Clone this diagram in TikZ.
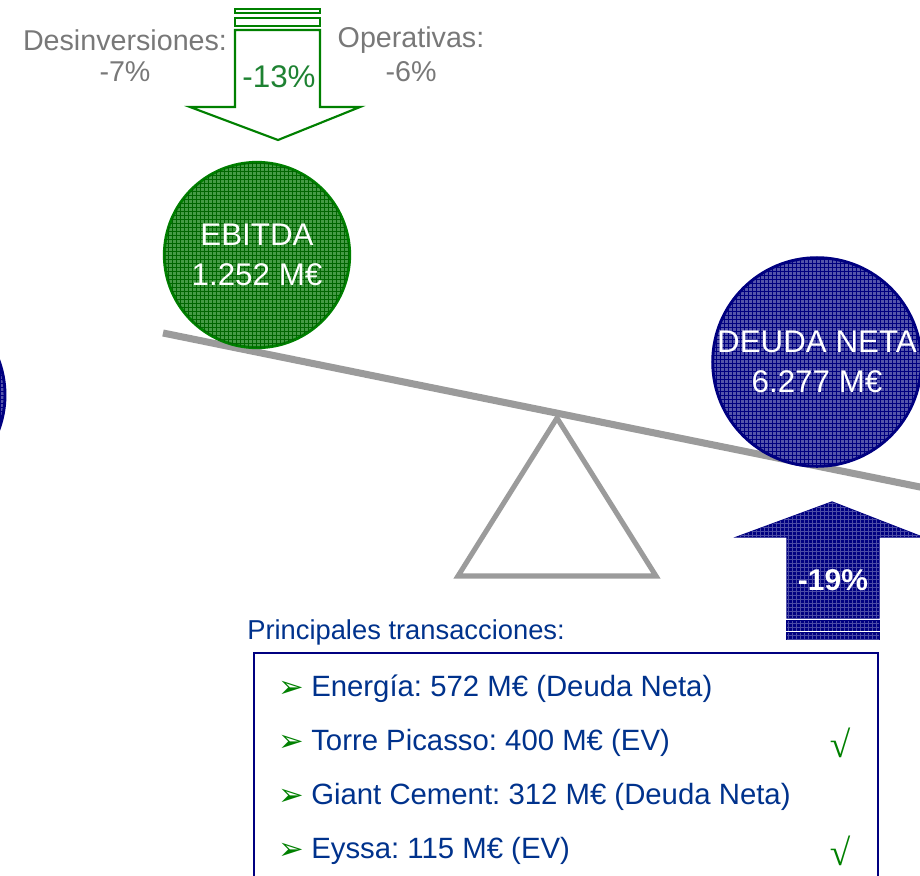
\documentclass[tikz,border=0pt]{standalone}
\usepackage{fontspec}
\setmainfont{Liberation Sans}
\newfontfamily\bulletfont{DejaVu Sans}
\newfontfamily\checkfont{Liberation Serif}
\usetikzlibrary{positioning,patterns}
\frenchspacing

\definecolor{ebitdagreen}{RGB}{70,155,70}
\definecolor{linegreen}{RGB}{0,128,0}
\definecolor{textgreen}{RGB}{30,130,50}
\definecolor{debtblue}{RGB}{85,85,170}
\definecolor{linenavy}{RGB}{0,0,128}
\definecolor{textnavy}{RGB}{0,50,140}
\definecolor{beamgray}{RGB}{155,155,155}
\definecolor{labelgray}{RGB}{120,120,120}

\begin{document}
\begin{tikzpicture}
[x=0.75pt, y=-0.75pt, inner sep=0pt,
ball/.style={circle, line width=2.2pt, minimum size=#1, align=center, text=white,
  font=\fontsize{23.5}{30}\selectfont},
ebitdaball/.style={ball=139pt, draw=linegreen, fill=ebitdagreen,
  postaction={pattern=grid, pattern color=linegreen!80!black}},
debtball/.style={ball=150pt, draw=linenavy, fill=debtblue,
  postaction={pattern=grid, pattern color=linenavy}},
glabel/.style={text=labelgray, font=\fontsize{21.5}{26}\selectfont},
item/.style={anchor=west, text=textnavy, font=\fontsize{22}{26}\selectfont},
bullet/.style={text=linegreen, font=\bulletfont\fontsize{23}{26}\selectfont},
tick/.style={text=linegreen, font=\checkfont\fontsize{28}{30}\selectfont},
greenarrow/.style={draw=linegreen, line width=1.6pt, fill=white},
bluearrow/.style={draw=linenavy, line width=1pt, fill=linenavy,
  postaction={pattern=grid, pattern color=linenavy!70!white}}]

\useasboundingbox (0,0) rectangle (920,875);

% balance
\draw[beamgray, line width=5.3pt] (163,333) -- (925,488);
\draw[beamgray, line width=3.8pt, fill=white, line join=miter]
  (557,418) -- (656,576) -- (458,576) -- cycle;

\node[debtball] (left) at (-95,395) {};
\node[ebitdaball] (ebitda) at (257,255) {EBITDA\\1.252 M€};
\node[debtball] (deuda) at (817,362) {DEUDA NETA\\6.277 M€};

% EBITDA change
\draw[greenarrow] (235,9) rectangle (320,13);
\draw[greenarrow] (235,18) rectangle (320,26);
\draw[greenarrow] (235,30) -- (320,30) -- (320,107) -- (360,107) -- (278,140)
  -- (190,107) -- (235,107) -- cycle;
\node[text=textgreen, font=\fontsize{23.5}{28}\selectfont] (ebitdapct) at (279,77) {-13\%};

\node[glabel] (desinv) at (125,40) {Desinversiones:};
\node[glabel] (desinvpct) at (125,72) {-7\%};
\node[glabel] (oper) at (411,40) {Operativas:};
\node[glabel] (operpct) at (411,72) {-6\%};

% Deuda change
\draw[bluearrow] (787,618) -- (787,537) -- (737,537) -- (832,502) -- (922,537)
  -- (879,537) -- (879,618) -- cycle;
\draw[bluearrow] (787,621) rectangle (879,630);
\draw[bluearrow] (787,633) rectangle (879,639);
\node[text=white, font=\bfseries\fontsize{22.5}{28}\selectfont] (deudapct) at (833,580) {-19\%};

% transacciones
\node[anchor=west, text=textnavy, font=\fontsize{20.5}{26}\selectfont] (title) at (247,632)
  {Principales transacciones:};
\draw[linenavy, line width=1.6pt] (254,653) rectangle (878,885);

\node[item] (t1) at (311,689) {Energía: 572 M€ (Deuda Neta)};
\node[item] (t2) at (311,743) {Torre Picasso: 400 M€ (EV)};
\node[item] (t3) at (311,797) {Giant Cement: 312 M€ (Deuda Neta)};
\node[item] (t4) at (311,851) {Eyssa: 115 M€ (EV)};
\node[bullet, left=5pt of t1] {➢};
\node[bullet, left=5pt of t2] {➢};
\node[bullet, left=5pt of t3] {➢};
\node[bullet, left=5pt of t4] {➢};
\node[tick] (c2) at (840,743) {√};
\node[tick] (c4) at (840,851) {√};

\end{tikzpicture}
\end{document}
